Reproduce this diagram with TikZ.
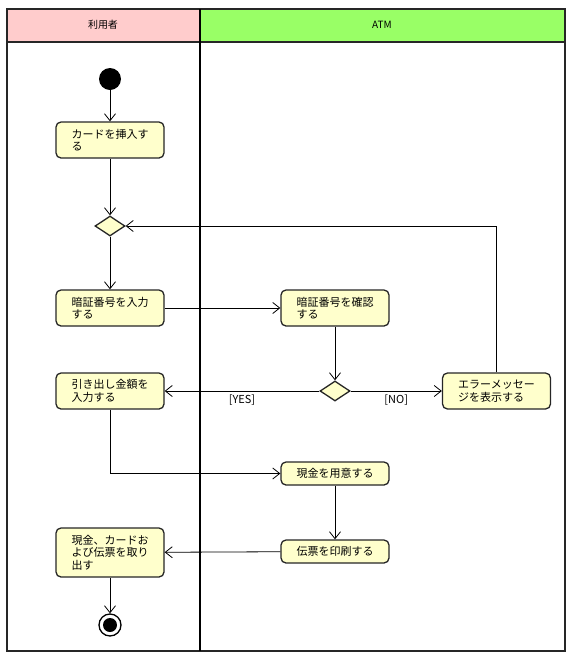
\documentclass[tikz,border=0pt]{standalone}
\usepackage{fontspec}
\setmainfont{Noto Sans CJK JP}
\usepackage{tikz}
\usetikzlibrary{shapes.geometric, arrows.meta, positioning}
\definecolor{lanepink}{RGB}{255,204,204}
\definecolor{lanegreen}{RGB}{153,255,102}
\definecolor{actyellow}{RGB}{255,255,204}

\begin{document}
\begin{tikzpicture}[
    x=1pt, y=-1pt,
    action/.style={rectangle, draw=black!85, fill=actyellow, line width=1.3pt, rounded corners=5pt, minimum width=108pt, minimum height=#1, align=left, inner sep=2pt, font=\fontsize{11}{12.5}\selectfont},
    action/.default=36pt,
    decision/.style={diamond, draw=black!85, fill=actyellow, line width=1.3pt, minimum width=30pt, minimum height=20pt, inner sep=0pt},
    arr/.style={-{Straight Barb[length=7pt, width=11pt]}, line width=0.8pt},
    guard/.style={font=\fontsize{11}{12}\selectfont},
    lanehead/.style={font=\fontsize{10}{12}\selectfont},
]
\useasboundingbox (0,0) rectangle (571,657);

% Swimlanes
\fill[lanepink] (7,9) rectangle (200,42);
\fill[lanegreen] (200,9) rectangle (565,42);
\draw[line width=1.5pt, black!85] (7,9) rectangle (565,651);
\draw[line width=1.5pt, black!85] (7,42) -- (565,42);
\draw[line width=2.5pt] (200,9) -- (200,651);
\node[lanehead] (user) at (103,25) {利用者};
\node[lanehead] (atm) at (382,25) {ATM};

% Start / end
\node[circle, fill=black, minimum size=22pt, inner sep=0pt] (start) at (110,79) {};
\node[circle, draw=black, line width=1.3pt, fill=white, minimum size=22pt, inner sep=0pt] (end) at (110,625) {};
\node[circle, fill=black, minimum size=14pt, inner sep=0pt] at (end) {};

% User lane
\node[action] (insert) at (110,140) {カードを挿入す\\る};
\node[decision] (dec1) at (110,226) {};
\node[action] (pin) at (110,308) {暗証番号を入力\\する};
\node[action] (amount) at (110,391) {引き出し金額を\\入力する};
\node[action=49pt] (take) at (110,552.5) {現金、カードお\\よび伝票を取り\\出す};

% ATM lane
\node[action] (check) at (335,308) {暗証番号を確認\\する};
\node[decision] (dec2) at (335,391) {};
\node[action] (err) at (496.5,391) {エラーメッセー\\ジを表示する};
\node[action=23pt] (cash) at (335,473.5) {現金を用意する};
\node[action=23pt] (slip) at (335,551.5) {伝票を印刷する};

% Arrows
\draw[arr] (start) -- (insert);
\draw[arr] (insert) -- (dec1);
\draw[arr] (dec1) -- (pin);
\draw[arr] (pin) -- (check);
\draw[arr] (check) -- (dec2);
\draw[arr] (dec2) -- node[guard, below, pos=0.5] {[YES]} (amount);
\draw[arr] (dec2) -- node[guard, below, pos=0.5] {[NO]} (err);
\draw[arr] (err.north) |- (dec1.east);
\draw[arr] (amount.south) |- (cash.west);
\draw[arr] (cash) -- (slip);
\draw[arr] (slip) -- (take);
\draw[arr] (take) -- (end);
\end{tikzpicture}
\end{document}
